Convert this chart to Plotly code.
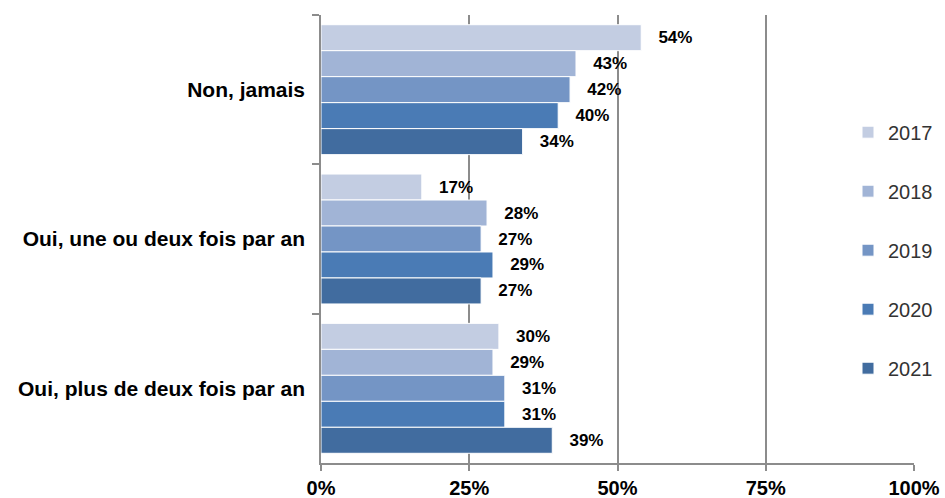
import plotly.graph_objects as go

categories = ["Non, jamais", "Oui, une ou deux fois par an", "Oui, plus de deux fois par an"]
years = ["2017", "2018", "2019", "2020", "2021"]
values = {
    "2017": [54, 17, 30],
    "2018": [43, 28, 29],
    "2019": [42, 27, 31],
    "2020": [40, 29, 31],
    "2021": [34, 27, 39],
}
colors = ["#C3CDE2", "#A1B4D6", "#7495C5", "#4A7BB5", "#416C9F"]
x_ticks = [0, 25, 50, 75, 100]
x_tick_labels = ["0%", "25%", "50%", "75%", "100%"]

fig = go.Figure()
for yr, col in zip(years, colors):
    fig.add_trace(go.Bar(
        y=categories, x=values[yr], name=yr, orientation="h",
        marker=dict(color=col, line=dict(color="white", width=1)),
        text=[f"   {v}%" for v in values[yr]],
        textposition="outside", cliponaxis=False, constraintext="none",
        textfont=dict(family="Liberation Sans", size=17, color="black", weight="bold"),
        legendgroup=yr,
    ))

grid = "#8C8C8C"
L, R, T, B = 321, 31, 15, 35
fig.update_layout(
    width=945, height=498,
    margin=dict(l=L, r=R, t=T, b=B, autoexpand=False),
    barmode="group", bargap=0.13, bargroupgap=0,
    plot_bgcolor="white", paper_bgcolor="white",
    font=dict(family="Liberation Sans"),
    showlegend=True,
    legend=dict(
        x=(848 - L) / (945 - L - R), y=0.475, yanchor="middle", xanchor="left",
        font=dict(family="Liberation Sans", size=20, color="#333333"),
        tracegroupgap=30, bgcolor="rgba(0,0,0,0)",
    ),
    xaxis=dict(
        range=[0, 100], tickvals=x_ticks, ticktext=x_tick_labels,
        showgrid=True, gridcolor=grid, gridwidth=1.5,
        showline=True, linecolor=grid, linewidth=1.5,
        ticks="outside", ticklen=6, tickcolor=grid, tickwidth=1.5,
        tickfont=dict(family="Liberation Sans", size=20, color="black", weight="bold"),
        zeroline=False, automargin=False, ticklabelstandoff=0,
    ),
    yaxis=dict(
        autorange="reversed", type="category",
        showline=True, linecolor=grid, linewidth=1.5,
        ticks="outside", ticklen=7, tickcolor=grid, tickwidth=1.5,
        tickson="boundaries", showgrid=False,
        tickfont=dict(family="Liberation Sans", size=21, color="black", weight="bold"),
        ticklabelstandoff=10, automargin=False,
    ),
)
fig.write_html(
    "out.html",
    config={"displayModeBar": False},
    post_script="document.body.style.margin='0';document.body.style.overflow='hidden';",
)
